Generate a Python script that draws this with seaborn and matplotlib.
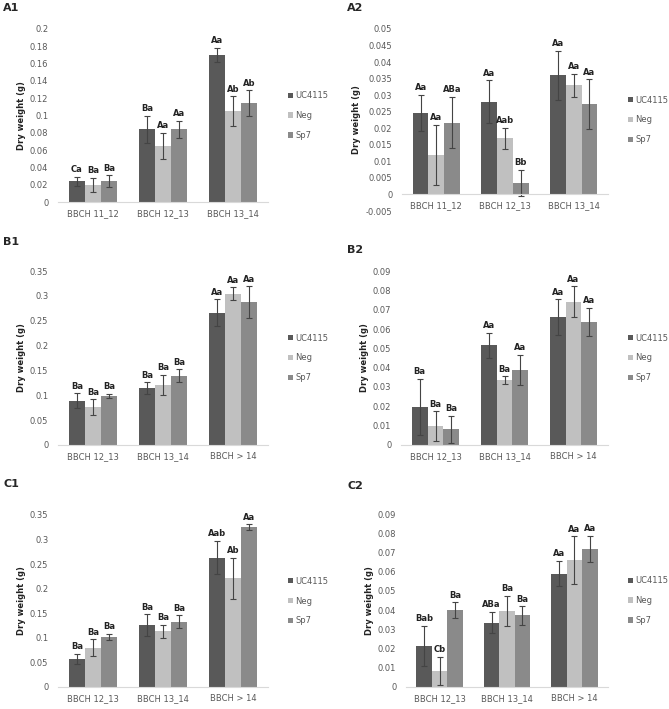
"""
Dry weight per BBCH stage - six panels (A1..C2)
"""

import pandas as pd
import numpy as np
import matplotlib
matplotlib.use('Agg')
import matplotlib.pyplot as plt
import seaborn as sns

sns.set_theme(style='white')
plt.rcParams['font.family'] = ['DejaVu Sans']

treatments = ['UC4115', 'Neg', 'Sp7']
colors = ['#595959', '#c0c0c0', '#8a8a8a']

stages_a = ['BBCH 11_12', 'BBCH 12_13', 'BBCH 13_14']
stages_bc = ['BBCH 12_13', 'BBCH 13_14', 'BBCH > 14']

# A1
a1_mean = {'UC4115': [0.024, 0.084, 0.170], 'Neg': [0.020, 0.065, 0.105], 'Sp7': [0.024, 0.084, 0.114]}
a1_err = {'UC4115': [0.005, 0.016, 0.008], 'Neg': [0.008, 0.015, 0.017], 'Sp7': [0.007, 0.010, 0.015]}
a1_lab = {'UC4115': ['Ca', 'Ba', 'Aa'], 'Neg': ['Ba', 'Aa', 'Ab'], 'Sp7': ['Ba', 'Aa', 'Ab']}

# A2
a2_mean = {'UC4115': [0.0247, 0.028, 0.036], 'Neg': [0.012, 0.017, 0.033], 'Sp7': [0.0217, 0.0035, 0.0273]}
a2_err = {'UC4115': [0.0055, 0.0065, 0.0075], 'Neg': [0.009, 0.0032, 0.0035], 'Sp7': [0.0077, 0.004, 0.0075]}
a2_lab = {'UC4115': ['Aa', 'Aa', 'Aa'], 'Neg': ['Aa', 'Aab', 'Aa'], 'Sp7': ['ABa', 'Bb', 'Aa']}

# B1
b1_mean = {'UC4115': [0.089, 0.114, 0.266], 'Neg': [0.076, 0.121, 0.304], 'Sp7': [0.099, 0.139, 0.287]}
b1_err = {'UC4115': [0.015, 0.012, 0.027], 'Neg': [0.016, 0.020, 0.013], 'Sp7': [0.004, 0.013, 0.032]}
b1_lab = {'UC4115': ['Ba', 'Ba', 'Aa'], 'Neg': ['Ba', 'Ba', 'Aa'], 'Sp7': ['Ba', 'Ba', 'Aa']}

# B2
b2_mean = {'UC4115': [0.0197, 0.0515, 0.066], 'Neg': [0.0099, 0.0335, 0.074], 'Sp7': [0.0082, 0.039, 0.0636]}
b2_err = {'UC4115': [0.0145, 0.0065, 0.0093], 'Neg': [0.0076, 0.002, 0.008], 'Sp7': [0.007, 0.0078, 0.0073]}
b2_lab = {'UC4115': ['Ba', 'Aa', 'Aa'], 'Neg': ['Ba', 'Ba', 'Aa'], 'Sp7': ['Ba', 'Aa', 'Aa']}

# C1
c1_mean = {'UC4115': [0.057, 0.126, 0.263], 'Neg': [0.080, 0.113, 0.221], 'Sp7': [0.102, 0.133, 0.325]}
c1_err = {'UC4115': [0.011, 0.022, 0.034], 'Neg': [0.017, 0.014, 0.042], 'Sp7': [0.006, 0.013, 0.006]}
c1_lab = {'UC4115': ['Ba', 'Ba', 'Aab'], 'Neg': ['Ba', 'Ba', 'Ab'], 'Sp7': ['Ba', 'Ba', 'Aa']}

# C2
c2_mean = {'UC4115': [0.0213, 0.0335, 0.059], 'Neg': [0.0083, 0.0395, 0.066], 'Sp7': [0.040, 0.0372, 0.0718]}
c2_err = {'UC4115': [0.0105, 0.0055, 0.0065], 'Neg': [0.0075, 0.0078, 0.0123], 'Sp7': [0.004, 0.0047, 0.007]}
c2_lab = {'UC4115': ['Bab', 'ABa', 'Aa'], 'Neg': ['Cb', 'Ba', 'Aa'], 'Sp7': ['Ba', 'Ba', 'Aa']}

W, H = 669, 709


def add_ax(fig, left, right, top, bottom):
    return fig.add_axes([left / W, 1 - bottom / H, (right - left) / W, (bottom - top) / H])


def panel(fig, rect, title, title_xy, stages, mean, err, lab, ymin, ymax, step):
    ax = add_ax(fig, *rect)
    rows = []
    for t in treatments:
        for s, v in zip(stages, mean[t]):
            rows.append({'stage': s, 'weight': v, 'treatment': t})
    df = pd.DataFrame(rows)
    sns.barplot(data=df, x='stage', y='weight', hue='treatment', hue_order=treatments,
                order=stages, palette=colors, width=0.69, errorbar=None, saturation=1,
                linewidth=0, ax=ax)

    # barras de erro + letras
    for i, t in enumerate(treatments):
        for bar, e, txt in zip(ax.containers[i], err[t], lab[t]):
            xc = bar.get_x() + bar.get_width() / 2
            h = bar.get_height()
            ax.errorbar(xc, h, yerr=e, fmt='none', ecolor='#444444', elinewidth=0.8,
                        capsize=2.5, capthick=0.8)
            ax.text(xc, h + e + (ymax - ymin) * 0.015, txt, ha='center', va='bottom',
                    fontsize=6, fontweight='bold', color='#222222')

    ax.set_ylim(ymin, ymax)
    ax.set_xlim(-0.5, 2.5)
    ticks = np.arange(ymin, ymax + step / 2, step)
    ax.set_yticks(ticks)
    ax.set_yticklabels([fmt_num(v) for v in ticks])
    ax.tick_params(axis='y', labelsize=6, colors='#595959', length=0, pad=7)
    ax.tick_params(axis='x', labelsize=6, colors='#595959', length=0, pad=5)
    ax.set_xlabel('')
    ax.set_ylabel('Dry weight (g)', fontsize=6, fontweight='bold', color='#222222', labelpad=3)
    for side in ['top', 'right', 'left']:
        ax.spines[side].set_visible(False)
    ax.spines['bottom'].set_color('#d9d9d9')
    ax.spines['bottom'].set_linewidth(0.8)
    ax.spines['bottom'].set_position(('data', 0))
    ax.grid(False)

    ax.legend(loc='center left', bbox_to_anchor=(1.06, 0.5), frameon=False,
              fontsize=6, labelspacing=1.3, handlelength=0.6, handleheight=0.6,
              handletextpad=0.3, labelcolor='#595959')
    fig.text(title_xy[0] / W, 1 - title_xy[1] / H, title, fontsize=8, fontweight='bold',
             ha='left', va='center')
    return ax


def fmt_num(v):
    v = round(v, 4)
    if abs(v) < 1e-9:
        return '0'
    return '%g' % v


fig = plt.figure(figsize=(W / 100, H / 100), dpi=100)
fig.patch.set_facecolor('white')

panel(fig, (58, 268, 29, 202), 'A1', (3, 8), stages_a, a1_mean, a1_err, a1_lab, 0, 0.2, 0.02)
panel(fig, (402, 608, 29, 211), 'A2', (347, 8), stages_a, a2_mean, a2_err, a2_lab, -0.005, 0.05, 0.005)
panel(fig, (58, 268, 271, 445), 'B1', (3, 242), stages_bc, b1_mean, b1_err, b1_lab, 0, 0.35, 0.05)
panel(fig, (401, 608, 271, 445), 'B2', (347, 250), stages_bc, b2_mean, b2_err, b2_lab, 0, 0.09, 0.01)
panel(fig, (58, 268, 515, 687), 'C1', (3, 484), stages_bc, c1_mean, c1_err, c1_lab, 0, 0.35, 0.05)
panel(fig, (406, 608, 514, 687), 'C2', (347, 486), stages_bc, c2_mean, c2_err, c2_lab, 0, 0.09, 0.01)

fig.savefig('out.png', dpi=100)
